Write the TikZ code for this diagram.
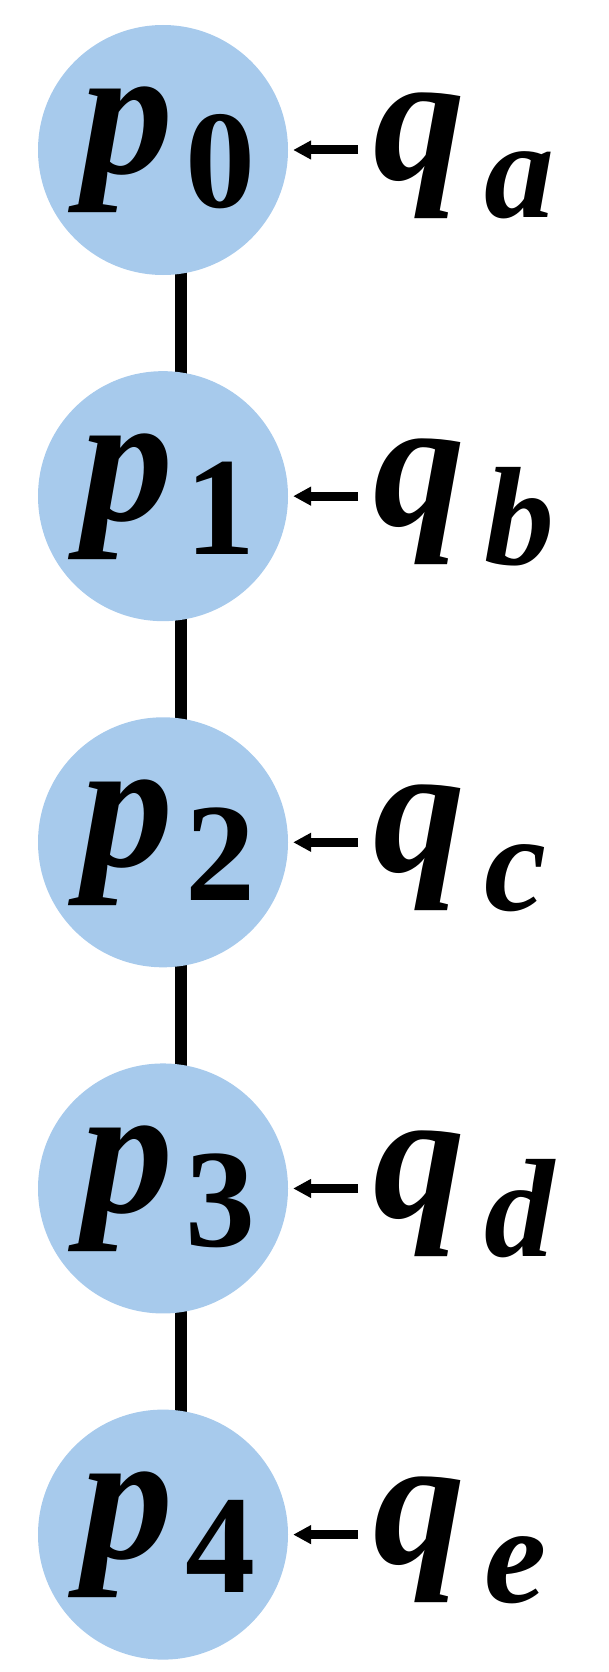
\documentclass[tikz,border=0pt]{standalone}
\usepackage{fontspec}
\setmainfont{Liberation Serif}
\usetikzlibrary{positioning,arrows.meta,backgrounds}
\definecolor{pblue}{RGB}{167,202,236}
\newcommand{\bigsz}{\fontsize{184pt}{184pt}\selectfont}
\newcommand{\subsz}{\fontsize{140pt}{140pt}\selectfont}
\newcommand{\pname}[1]{{\bigsz\bfseries\itshape p}\hspace{12pt}\raisebox{-34pt}{\subsz\bfseries #1}}
\newcommand{\qname}[1]{{\bigsz\bfseries\itshape q}\hspace{19pt}\raisebox{-39pt}{\subsz\bfseries\itshape #1}}
\tikzset{
  pnode/.style={circle, fill=pblue, minimum size=250pt, inner sep=0pt},
  lbl/.style={inner sep=0pt, anchor=base west},
  link/.style={line width=12pt},
  arr/.style={line width=9pt, -{Triangle[length=18pt,width=18pt]}, shorten >=5pt, shorten <=15pt}
}
\begin{document}
\begin{tikzpicture}[x=1pt,y=1pt]
    \useasboundingbox (0,0) rectangle (609,-1672);
    % Circles
    \node[pnode] (p0) at (163,-150) {};
    \node[pnode, below=95.75pt of p0] (p1) {};
    \node[pnode, below=95.75pt of p1] (p2) {};
    \node[pnode, below=95.75pt of p2] (p3) {};
    \node[pnode, below=95.75pt of p3] (p4) {};
    % Chain
    \begin{scope}[on background layer]
      \foreach \i/\j in {0/1,1/2,2/3,3/4}
        \draw[link] ([xshift=18pt]p\i.center) -- ([xshift=18pt]p\j.center);
    \end{scope}
    % Labels
    \foreach \i/\s in {0/a,1/b,2/c,3/d,4/e} {
      \node[lbl] (lp\i) at ([xshift=-82pt,yshift=-24pt]p\i.center) {\pname{\i}};
      \node[lbl] (q\s) at ([xshift=210pt,yshift=-29pt]p\i.center) {\qname{\s}};
      \draw[arr] (q\s.west |- p\i.east) -- (p\i.east);
    }
  \end{tikzpicture}
\end{document}
